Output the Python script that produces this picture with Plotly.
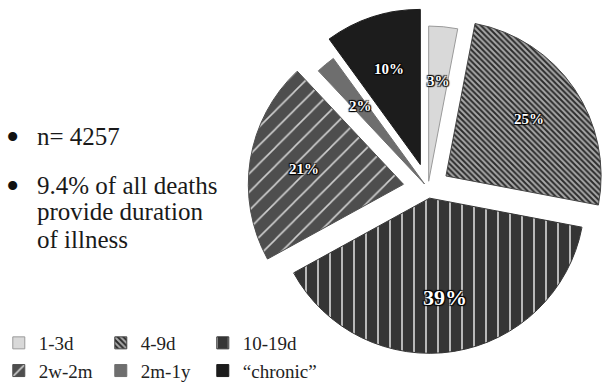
import math
import plotly.graph_objects as go

# Duration of illness before death (share of deaths reporting a duration)
categories = ["1-3d", "4-9d", "10-19d", "2w-2m", "2m-1y", "\u201cchronic\u201d"]
percent_of_deaths = [3, 25, 39, 21, 2, 10]
n_total = 4257
share_with_duration = 9.4

W, H = 608, 390
SERIF = "Liberation Serif"

# slice styling (grayscale fills + hatching)
fill_colors = ["#d9d9d9", "#2c2c2c", "#353535", "#4e4e4e", "#6e6e6e", "#1c1c1c"]
pattern_shapes = ["", "\\", "|", "/", "", ""]
pattern_fg = ["#d9d9d9", "#a8a8a8", "#c8c8c8", "#d0d0d0", "#6e6e6e", "#1c1c1c"]
pattern_size = [8, 4, 12, 13, 8, 8]
pattern_solidity = [0.3, 0.5, 0.15, 0.12, 0.3, 0.3]
edge_colors = ["#9a9a9a", "#444444", "#353535", "#4e4e4e", "#6e6e6e", "#1c1c1c"]
pulls = [0.045, 0.14, 0.065, 0.16, 0.035, 0.16]
label_sizes = [15, 15, 22, 15, 15, 15]

dom_x = [248 / W, 1.0]
dom_y = [0.035, 1.0]

fig = go.Figure()
fig.add_trace(go.Pie(
    labels=categories,
    values=percent_of_deaths,
    sort=False,
    direction="clockwise",
    rotation=0,
    pull=pulls,
    textinfo="none",
    hoverinfo="label+percent",
    domain=dict(x=dom_x, y=dom_y),
    marker=dict(
        colors=fill_colors,
        line=dict(color=edge_colors, width=1),
        pattern=dict(
            shape=pattern_shapes,
            bgcolor=fill_colors,
            fgcolor=pattern_fg,
            size=pattern_size,
            solidity=pattern_solidity,
            fillmode="replace",
        ),
    ),
    showlegend=True,
))

# pie geometry (same rules plotly uses to lay out the pie)
box_w = (dom_x[1] - dom_x[0]) * W
box_h = (dom_y[1] - dom_y[0]) * H
cx = W * (dom_x[0] + dom_x[1]) / 2
cy = H * (1 - dom_y[0]) - box_h / 2
r = min(box_w, box_h) / (2 + 2 * max(pulls))

annotations = []
total = sum(percent_of_deaths)
cum = 0.0
for val, pull, fs in zip(percent_of_deaths, pulls, label_sizes):
    mid = math.radians((cum + val / 2) / total * 360)
    cum += val
    dist = (pull + 0.65) * r
    px = cx + dist * math.sin(mid)
    py = cy - dist * math.cos(mid)
    annotations.append(dict(
        x=px / W, y=1 - py / H, xref="paper", yref="paper",
        text=f"<b>{val}%</b>", showarrow=False,
        xanchor="center", yanchor="middle",
        font=dict(family=SERIF, size=fs, color="#ffffff",
                  shadow="1px 1px 1px #000, -1px -1px 1px #000, 1px -1px 1px #000, -1px 1px 1px #000"),
    ))

# bullet notes on the left
note_lines = [
    (136, True, f"n= {n_total}"),
    (185, True, f"{share_with_duration}% of all deaths"),
    (212, False, "provide duration"),
    (239, False, "of illness"),
]
for ypix, bullet, txt in note_lines:
    if bullet:
        annotations.append(dict(
            x=4 / W, y=1 - (ypix + 1) / H, xref="paper", yref="paper",
            text="\u2022", showarrow=False, xanchor="left", yanchor="middle",
            font=dict(family=SERIF, size=38, color="#111111"),
        ))
    annotations.append(dict(
        x=35 / W, y=1 - ypix / H, xref="paper", yref="paper",
        text=txt, showarrow=False, xanchor="left", yanchor="middle",
        font=dict(family=SERIF, size=25, color="#1a1a1a"),
    ))

fig.update_layout(
    width=W, height=H,
    margin=dict(l=0, r=0, t=0, b=0, autoexpand=False),
    paper_bgcolor="white", plot_bgcolor="white",
    annotations=annotations,
    legend=dict(
        orientation="h", x=-0.002, xanchor="left", y=0, yanchor="bottom",
        entrywidth=57, entrywidthmode="pixels",
        font=dict(family=SERIF, size=19, color="#222222"),
        bgcolor="rgba(0,0,0,0)", traceorder="normal",
        # blank heading row keeps the third column wide enough for its text
        title=dict(text="\u00a0" * 140, side="top", font=dict(family=SERIF, size=10)),
    ),
)

fig.write_html("out.html")
